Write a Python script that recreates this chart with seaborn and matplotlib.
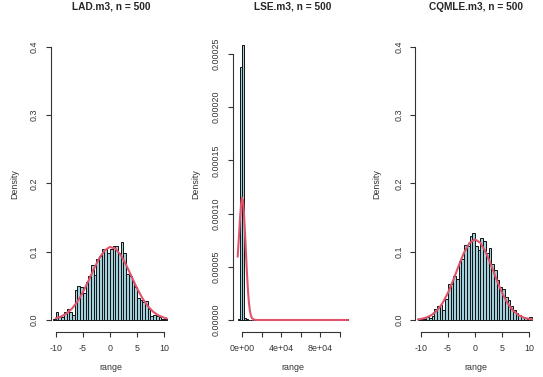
import numpy as np
import pandas as pd
import seaborn as sns
import matplotlib
matplotlib.use("Agg")
import matplotlib.pyplot as plt

# histogram densities (bin width 0.5, first bin starts at -10.5)
lad_breaks = np.arange(-10.5, 10.51, 0.5)
lad_density = [0.002, 0.012, 0.004, 0.005, 0.012, 0.016, 0.012, 0.008,
               0.044, 0.050, 0.048, 0.040, 0.056, 0.064, 0.080, 0.066,
               0.090, 0.094, 0.104, 0.104, 0.098, 0.104, 0.108, 0.108,
               0.098, 0.114, 0.098, 0.068, 0.064, 0.056, 0.048, 0.032,
               0.030, 0.026, 0.028, 0.016, 0.006, 0.008, 0.006, 0.004,
               0.002, 0.002]

cqmle_breaks = np.arange(-10.5, 10.51, 0.5)
cqmle_density = [0.001, 0.002, 0.002, 0.005, 0.003, 0.006, 0.016, 0.021,
                 0.022, 0.015, 0.031, 0.053, 0.052, 0.065, 0.060, 0.086,
                 0.090, 0.110, 0.108, 0.123, 0.127, 0.108, 0.102, 0.120,
                 0.116, 0.098, 0.105, 0.082, 0.073, 0.058, 0.048, 0.045,
                 0.034, 0.030, 0.021, 0.015, 0.010, 0.007, 0.005, 0.003,
                 0.002, 0.004]

# LSE: bin width 2000, only a few non-empty bins
lse_breaks = np.arange(-4000, 108001, 2000)
lse_centers = [-3000, -1000, 1000, 3000, 5000, 107000]
lse_density = [0.000001, 0.000238, 0.000258, 0.000002, 0.000001, 0.000001]

# red density curves
lad_curve_x = [-10, -9, -8, -7, -6, -5, -4, -3, -2, -1, 0, 1, 2, 3, 4, 5,
               6, 7, 8, 9, 10, 10.5]
lad_curve_y = [0.0025, 0.0051, 0.0095, 0.0166, 0.0268, 0.0404, 0.0567,
               0.0740, 0.0899, 0.1016, 0.1069, 0.1046, 0.0952, 0.0807,
               0.0637, 0.0467, 0.0319, 0.0203, 0.0120, 0.0066, 0.0034, 0.0024]

cqmle_curve_x = [-10.5, -10, -9, -8, -7, -6, -5, -4, -3, -2, -1, 0, 1, 2,
                 3, 4, 5, 6, 7, 8, 9, 10, 10.5]
cqmle_curve_y = [0.0009, 0.0015, 0.0034, 0.0072, 0.0138, 0.0244, 0.0395,
                 0.0585, 0.0795, 0.0990, 0.1129, 0.1180, 0.1129, 0.0990,
                 0.0795, 0.0585, 0.0395, 0.0244, 0.0138, 0.0072, 0.0034,
                 0.0015, 0.0009]

lse_curve_x = [-4400, -3000, -2000, -1000, 0, 1000, 2000, 3000, 4000, 5000,
               6000, 7000, 8000, 9000, 10000, 12000, 15000, 108000]
lse_curve_y = [0.0000595, 0.000080, 0.000096, 0.000108, 0.000115, 0.000112,
               0.000100, 0.000083, 0.000064, 0.000045, 0.000029, 0.000017,
               0.000009, 0.0000045, 0.000002, 0.0000003, 0.0, 0.0]

titles = ["LAD.m3, n = 500", "LSE.m3, n = 500", "CQMLE.m3, n = 500"]
unit_ticks = [-10, -5, 0, 5, 10]
unit_yticks = [0.0, 0.1, 0.2, 0.3, 0.4]
unit_ylabels = ["0.0", "0.1", "0.2", "0.3", "0.4"]
lse_xticks = [0, 20000, 40000, 60000, 80000, 100000]
lse_xlabels = ["0e+00", "", "4e+04", "", "8e+04", ""]
lse_yticks = [0.0, 0.00005, 0.00010, 0.00015, 0.00020, 0.00025]
lse_ylabels = ["0.00000", "0.00005", "0.00010", "0.00015", "0.00020", "0.00025"]

sns.set_style("white")
plt.rcParams["font.family"] = ["Liberation Sans", "DejaVu Sans"]

W, H = 543, 377
fig = plt.figure(figsize=(W / 100, H / 100), dpi=100)

top_px, bot_px = 35.8, 332
panels = [
    # left px, right px, xlim, ylim
    (50.7, 171, (-10.93, 11.29), (-0.01756, 0.4159)),
    (233, 353, (-9180, 113265), (-1.128e-5, 0.0002671)),
    (415.3, 536, (-10.99, 11.23), (-0.01756, 0.4159)),
]


def mids(b):
    return [(a + c) / 2 for a, c in zip(b[:-1], b[1:])]


data = [
    (lad_breaks, mids(lad_breaks), lad_density, lad_curve_x, lad_curve_y),
    (lse_breaks, lse_centers, lse_density, lse_curve_x, lse_curve_y),
    (cqmle_breaks, mids(cqmle_breaks), cqmle_density, cqmle_curve_x, cqmle_curve_y),
]

axis_col = "#333333"
red = "#DF536B"

for i, ((lpx, rpx, xl, yl), (breaks, centers, dens, cx, cy)) in enumerate(zip(panels, data)):
    ax = fig.add_axes([lpx / W, (H - bot_px) / H, (rpx - lpx) / W, (bot_px - top_px) / H])

    hist_df = pd.DataFrame({"mid": centers, "dens": dens})
    curve_df = pd.DataFrame({"x": cx, "y": cy})

    sns.histplot(data=hist_df, x="mid", weights="dens", bins=list(breaks), stat="count",
                 facecolor="#a3d0dd", edgecolor="#111111", linewidth=0.7,
                 alpha=1, ax=ax)
    sns.lineplot(data=curve_df, x="x", y="y", color=red, linewidth=1.5, ax=ax)

    ax.set_xlim(*xl)
    ax.set_ylim(*yl)

    if i == 1:
        ax.set_xticks(lse_xticks)
        ax.set_xticklabels(lse_xlabels)
        ax.set_yticks(lse_yticks)
        ax.set_yticklabels(lse_ylabels)
        ax.spines["bottom"].set_bounds(0, 100000)
        ax.spines["left"].set_bounds(0, 0.00025)
    else:
        ax.set_xticks(unit_ticks)
        ax.set_xticklabels([str(t) for t in unit_ticks])
        ax.set_yticks(unit_yticks)
        ax.set_yticklabels(unit_ylabels)
        ax.spines["bottom"].set_bounds(-10, 10)
        ax.spines["left"].set_bounds(0, 0.4)

    for s in ["top", "right"]:
        ax.spines[s].set_visible(False)
    for s in ["left", "bottom"]:
        ax.spines[s].set_color(axis_col)
        ax.spines[s].set_linewidth(0.8)

    ax.tick_params(axis="both", direction="out", length=3.3, width=0.8,
                   color=axis_col, labelsize=6.4, labelcolor=axis_col,
                   left=True, bottom=True)
    ax.tick_params(axis="x", pad=5.2)
    ax.tick_params(axis="y", pad=5.4, labelrotation=90)
    for lab in ax.get_yticklabels():
        lab.set_va("center")

    ax_h = bot_px - top_px
    ax_w = rpx - lpx
    ax.set_xlabel("range", fontsize=6.4, color=axis_col, va="center")
    ax.xaxis.set_label_coords(0.5, -(368 - bot_px) / ax_h)
    ax.set_ylabel("Density", fontsize=6.4, color=axis_col, va="center")
    ax.yaxis.set_label_coords(-(lpx - (15 + 181 * i)) / ax_w, 0.5)

    ax.set_title(titles[i], fontsize=7.3, fontweight="bold", y=1 + 20.8 / ax_h, va="center")

fig.savefig("out.png", dpi=100)
